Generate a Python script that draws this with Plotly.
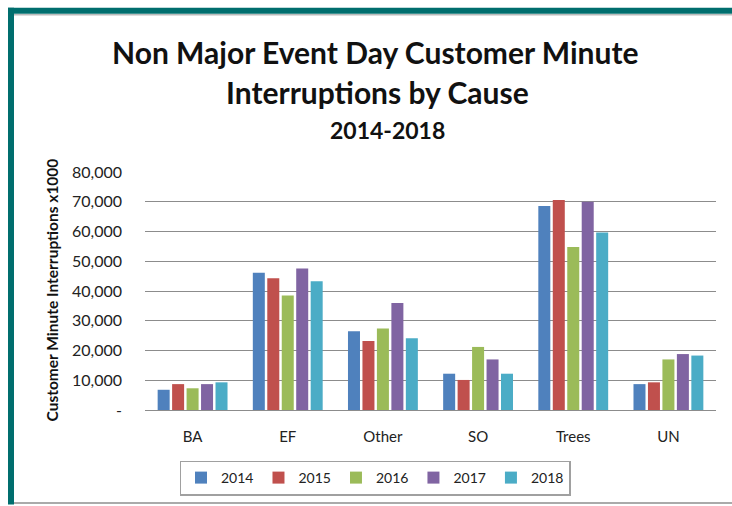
import plotly.graph_objects as go

categories = ["BA", "EF", "Other", "SO", "Trees", "UN"]
years = ["2014", "2015", "2016", "2017", "2018"]
v2014 = [6800, 46100, 26500, 12200, 68600, 8700]
v2015 = [8700, 44300, 23200, 10100, 70600, 9300]
v2016 = [7300, 38500, 27400, 21200, 54800, 17000]
v2017 = [8700, 47600, 36000, 17000, 70000, 18800]
v2018 = [9300, 43300, 24100, 12200, 59700, 18300]
series = [v2014, v2015, v2016, v2017, v2018]
colors = ["#4F81BD", "#C0504D", "#9BBB59", "#8064A2", "#4BACC6"]
tick_vals = [0, 10000, 20000, 30000, 40000, 50000, 60000, 70000, 80000]
tick_text = ["-", "10,000", "20,000", "30,000", "40,000", "50,000", "60,000", "70,000", "80,000"]

W, H = 732, 506
L, R, T, B = 145, 16, 172, 95
pw, ph = W - L - R, H - T - B

def px(x):
    return (x - L) / pw

def py(y):
    return (H - B - y) / ph

fig = go.Figure()
for name, vals, c in zip(years, series, colors):
    fig.add_trace(go.Bar(name=name, x=categories, y=vals, marker=dict(color=c, line=dict(width=0))))

font = "Lato, Open Sans, Arial"
fig.update_layout(
    width=W, height=H,
    margin=dict(l=L, r=R, t=T, b=B),
    paper_bgcolor="white", plot_bgcolor="white",
    barmode="group", bargap=0.24, bargroupgap=0.17,
    font=dict(family=font, color="#222222"),
    showlegend=True,
    legend=dict(orientation="h", x=px(375), y=py(478), xanchor="center", yanchor="middle",
                bordercolor="#A0A0A0", borderwidth=1.5, font=dict(size=14, color="#222222"),
                itemwidth=30, tracegroupgap=0),
    xaxis=dict(showgrid=False, showline=False, ticks="", tickfont=dict(size=15, color="#222222"),
               ticklabelstandoff=16),
    yaxis=dict(range=[0, 80000], tickvals=tick_vals, ticktext=tick_text, showgrid=True,
               gridcolor="#8C8C8C", gridwidth=1, zeroline=True, zerolinecolor="#8C8C8C",
               zerolinewidth=1, tickfont=dict(size=16, color="#222222"), ticklabelstandoff=22),
)

fig.add_annotation(text="<b>Non Major Event Day Customer Minute</b>", x=px(375), y=py(51),
                   xanchor="center", yanchor="middle",
                   xref="paper", yref="paper", showarrow=False, font=dict(size=30, color="#111111"))
fig.add_annotation(text="<b>Interruptions by Cause</b>", x=px(377), y=py(92),
                   xanchor="center", yanchor="middle",
                   xref="paper", yref="paper", showarrow=False, font=dict(size=30, color="#111111"))
fig.add_annotation(text="<b>2014-2018</b>", x=px(387), y=py(130),
                   xanchor="center", yanchor="middle",
                   xref="paper", yref="paper", showarrow=False, font=dict(size=23, color="#111111"))
fig.add_annotation(text="<b>Customer Minute Interruptions x1000</b>", x=px(52), y=py(291),
                   xanchor="center", yanchor="middle",
                   xref="paper", yref="paper", showarrow=False, textangle=-90,
                   font=dict(size=15.5, color="#111111"))

# frame
fig.add_shape(type="rect", xref="paper", yref="paper", x0=px(8), x1=px(732), y0=py(7), y1=py(13),
              fillcolor="#006E6E", line=dict(width=0), layer="above")
fig.add_shape(type="line", xref="paper", yref="paper", x0=px(14), x1=px(732), y0=py(14), y1=py(14),
              line=dict(color="#BBBBBB", width=1.5))
fig.add_shape(type="rect", xref="paper", yref="paper", x0=px(8), x1=px(14), y0=py(7), y1=py(506),
              fillcolor="#006E6E", line=dict(width=0), layer="above")
fig.add_shape(type="line", xref="paper", yref="paper", x0=px(14), x1=px(732), y0=py(504.5), y1=py(504.5),
              line=dict(color="#AAAAAA", width=2))

fig.write_html("out.html", config={"displayModeBar": False},
               post_script="document.body.style.margin='0';document.body.style.overflow='hidden';")
